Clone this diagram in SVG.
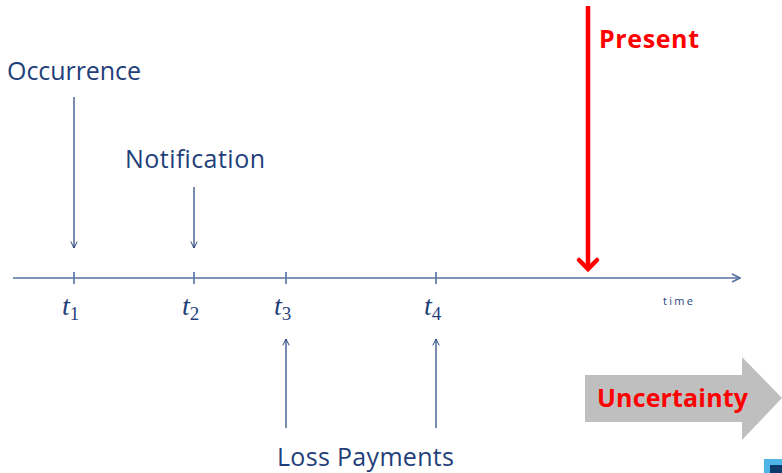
<svg xmlns="http://www.w3.org/2000/svg" width="782" height="473" viewBox="0 0 782 473">
<defs>
<style>
.lbl{font-family:"Open Sans","Liberation Sans",sans-serif;font-size:25px;fill:#1f3f7a}
.math{font-family:"Liberation Serif",serif;font-style:italic;font-size:28px;fill:#1f3f7a}
.sub{font-family:"Liberation Serif",serif;font-size:19px;fill:#1f3f7a}
.red{font-family:"Open Sans","Liberation Sans",sans-serif;font-weight:bold;font-size:25px;fill:#ff0000}
.ln{stroke:#1f3f7a;stroke-width:1.2;fill:none}
.ax{stroke:#5470a0;stroke-width:1.6;fill:none}
</style>
<marker id="ah" viewBox="0 0 10 10" refX="9" refY="5" markerWidth="8" markerHeight="8" markerUnits="userSpaceOnUse" orient="auto">
<path d="M1,1 L9,5 L1,9" fill="none" stroke="#1f3f7a" stroke-width="1.2"/>
</marker>
<marker id="ahx" viewBox="0 0 10 10" refX="9" refY="5" markerWidth="10" markerHeight="10" markerUnits="userSpaceOnUse" orient="auto">
<path d="M1,1 L9,5 L1,9" fill="none" stroke="#5470a0" stroke-width="1.6"/>
</marker>
</defs>
<g id="axis">
<line class="ax" x1="13" y1="278" x2="740" y2="278" marker-end="url(#ahx)"/>
<line class="ax" x1="74" y1="272" x2="74" y2="284"/>
<line class="ax" x1="194" y1="272" x2="194" y2="284"/>
<line class="ax" x1="286" y1="272" x2="286" y2="284"/>
<line class="ax" x1="436" y1="272" x2="436" y2="284"/>
<text x="663" y="305" textLength="30" style="font-family:'Open Sans','Liberation Sans',sans-serif;font-size:11px;fill:#1f3f7a">time</text>
</g>
<g id="t1"><text class="math" x="62" y="315">t<tspan class="sub" font-style="normal" dy="5">1</tspan></text></g>
<g id="t2"><text class="math" x="182" y="315">t<tspan class="sub" font-style="normal" dy="5">2</tspan></text></g>
<g id="t3"><text class="math" x="274" y="315">t<tspan class="sub" font-style="normal" dy="5">3</tspan></text></g>
<g id="t4"><text class="math" x="424" y="315">t<tspan class="sub" font-style="normal" dy="5">4</tspan></text></g>
<g id="occurrence"><text class="lbl" x="7" y="80" textLength="134">Occurrence</text></g>
<g id="notification"><text class="lbl" x="125" y="168" textLength="140">Notification</text></g>
<g id="loss-payments"><text class="lbl" x="277" y="466" textLength="177">Loss Payments</text></g>
<g id="connectors">
<line class="ln" x1="74" y1="97" x2="74" y2="248" marker-end="url(#ah)"/>
<line class="ln" x1="194" y1="187" x2="194" y2="248" marker-end="url(#ah)"/>
<line class="ln" x1="286" y1="428" x2="286" y2="339" marker-end="url(#ah)"/>
<line class="ln" x1="436" y1="428" x2="436" y2="339" marker-end="url(#ah)"/>
</g>
<g id="present">
<line x1="588" y1="6" x2="588" y2="268" stroke="#ff0000" stroke-width="4.5"/>
<path d="M579,260 L588,269 L597,260" fill="none" stroke="#ff0000" stroke-width="4.5" stroke-linecap="round"/>
<text class="red" x="599" y="48" textLength="100">Present</text>
</g>
<g id="uncertainty">
<polygon points="585,375 742,375 742,357 782,398 742,440 742,422 585,422" fill="#bfbfbf"/>
<text class="red" x="597" y="407" textLength="151">Uncertainty</text>
</g>
<g id="corner">
<rect x="764" y="459" width="18" height="14" fill="#4fb4e6"/>
<rect x="770" y="465" width="12" height="8" fill="#0c3a6b"/>
</g>
</svg>
